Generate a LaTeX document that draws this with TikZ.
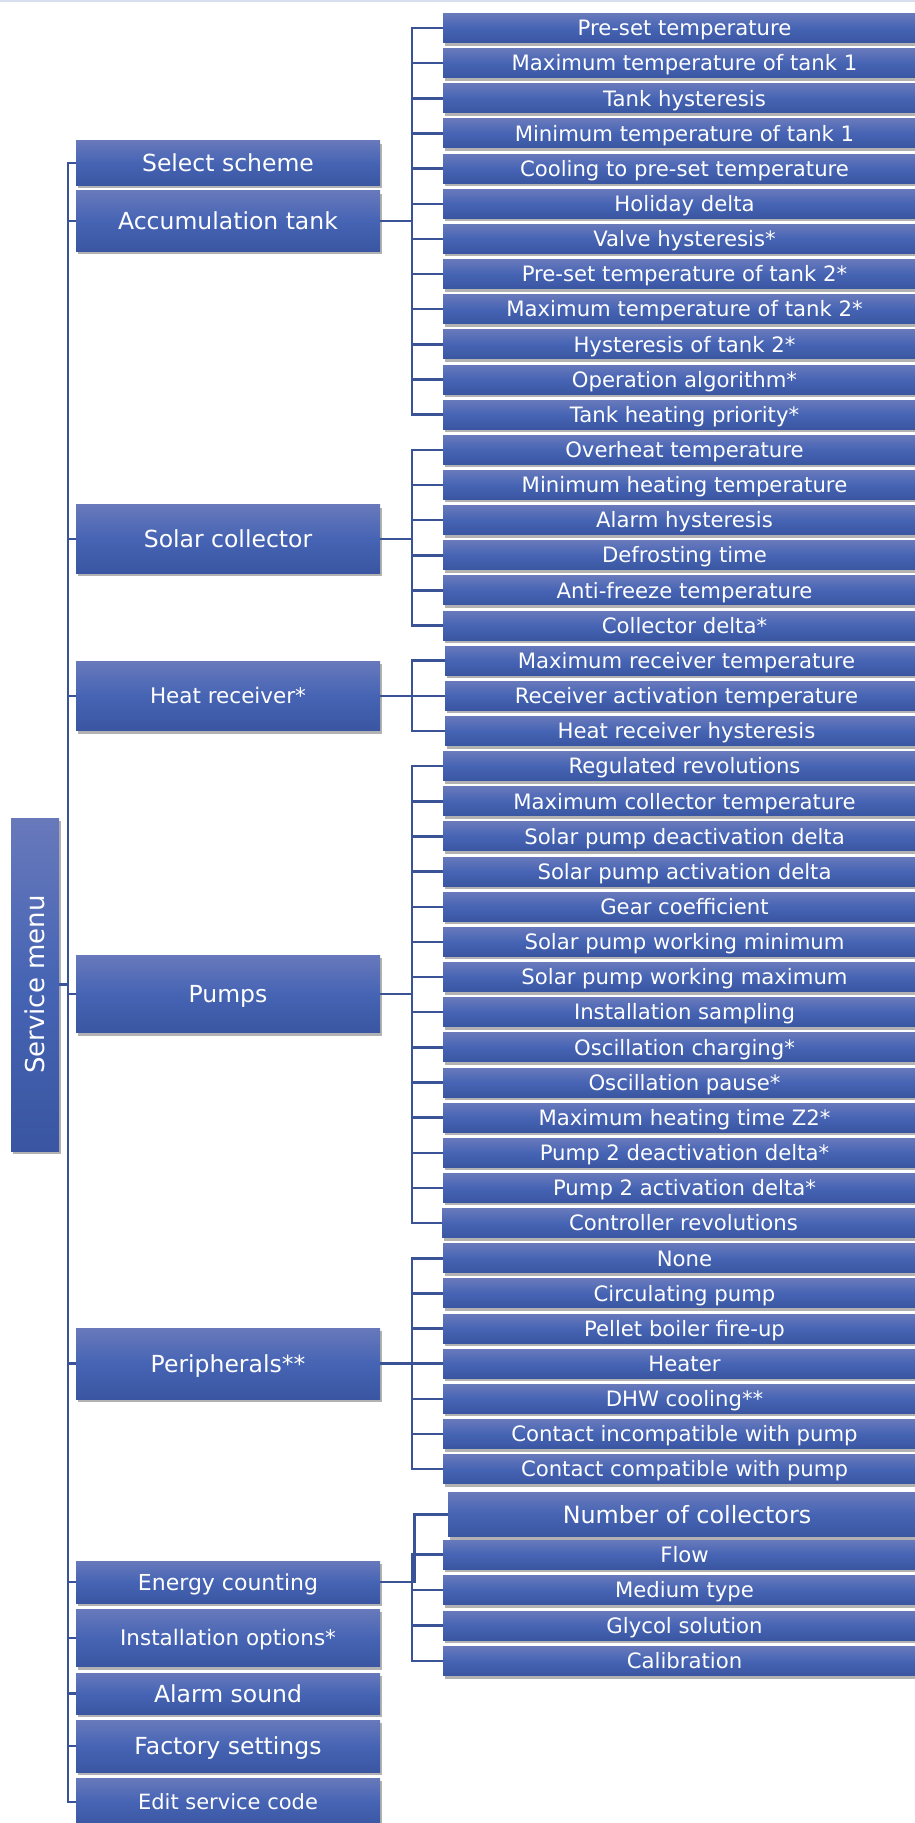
\documentclass[tikz,border=0pt]{standalone}
\usepackage{fontspec}
\setmainfont{DejaVu Sans}
\usetikzlibrary{shadows}
\definecolor{boxtop}{RGB}{104,121,187}
\definecolor{boxmid}{RGB}{70,100,180}
\definecolor{boxbot}{RGB}{58,86,162}
\definecolor{linec}{RGB}{58,82,150}
\definecolor{toplinec}{RGB}{216,222,238}
\begin{document}
\begin{tikzpicture}[x=1pt,y=-1pt,
  menubox/.style={inner sep=0pt, text=white, top color=boxtop, bottom color=boxbot, middle color=boxmid,
    drop shadow={shadow xshift=2pt, shadow yshift=-3pt, opacity=0.3, fill=black}, text depth=0pt},
  fs/.style={font=\fontsize{#1}{#1}\selectfont, text height=0.73*#1 pt},
  mainbox/.style={menubox, minimum width=304pt, fs=23.5},
  subbox/.style={menubox, minimum width=483pt, minimum height=29pt, fs=21.2},
  conn/.style={draw=linec, line width=2.5pt, line join=miter}]
\useasboundingbox (0,0) rectangle (915,1823);
\clip (0,0) rectangle (915,1823);
\fill[white] (0,0) rectangle (915,1823);
\draw[toplinec, line width=2pt] (0,1) -- (915,1);

% root
\node[menubox, minimum width=48pt, minimum height=333pt, font=\fontsize{26}{30}\selectfont,
      text height=, text depth=] (svc) at (35,984.5) {\rotatebox{90}{Service menu}};

% level 1
\node[mainbox, minimum height=44.5pt] (sel) at (228,163) {Select scheme};
\node[mainbox, minimum height=60.5pt] (acc) at (228,221) {Accumulation tank};
\node[mainbox, minimum height=68.5pt] (sol) at (228,538.8) {Solar collector};
\node[mainbox, minimum height=69.5pt, fs=21.5] (hr) at (228,695.8) {Heat receiver*};
\node[mainbox, minimum height=77.5pt] (pum) at (228,993.8) {Pumps};
\node[mainbox, minimum height=71pt] (per) at (228,1363.5) {Peripherals**};
\node[mainbox, minimum height=42pt, fs=22] (ene) at (228,1582) {Energy counting};
\node[mainbox, minimum height=57.5pt, fs=21.5] (ins) at (228,1638) {Installation options*};
\node[mainbox, minimum height=41pt] (ala) at (228,1693.5) {Alarm sound};
\node[mainbox, minimum height=52pt] (fac) at (228,1746) {Factory settings};
\node[mainbox, minimum height=48pt, fs=21] (edi) at (228,1802) {Edit service code};

% level 2
\foreach \i/\t in {0/Pre-set temperature, 1/Maximum temperature of tank 1, 2/Tank hysteresis,
  3/Minimum temperature of tank 1, 4/Cooling to pre-set temperature, 5/Holiday delta,
  6/Valve hysteresis*, 7/Pre-set temperature of tank 2*, 8/Maximum temperature of tank 2*,
  9/Hysteresis of tank 2*, 10/Operation algorithm*, 11/Tank heating priority*,
  12/Overheat temperature, 13/Minimum heating temperature, 14/Alarm hysteresis,
  15/Defrosting time, 16/Anti-freeze temperature, 17/Collector delta*,
  21/Regulated revolutions, 22/Maximum collector temperature, 23/Solar pump deactivation delta,
  24/Solar pump activation delta, 25/Gear coefficient, 26/Solar pump working minimum,
  27/Solar pump working maximum, 28/Installation sampling, 29/Oscillation charging*,
  30/Oscillation pause*, 31/Maximum heating time Z2*, 32/Pump 2 deactivation delta*,
  33/Pump 2 activation delta*, 35/None, 36/Circulating pump,
  37/Pellet boiler fire-up, 38/Heater, 39/DHW cooling**, 40/Contact incompatible with pump,
  41/Contact compatible with pump}
  \node[subbox] (r\i) at (684.5,{28+35.15*\i}) {\t};
\foreach \i/\t in {18/Maximum receiver temperature, 19/Receiver activation temperature, 20/Heat receiver hysteresis}
  \node[subbox] (r\i) at (686.5,{28+35.15*\i}) {\t};
\node[subbox] (r34) at (683.5,{28+35.15*34}) {Controller revolutions};

% energy counting group
\node[subbox, minimum width=478pt, minimum height=44.5pt, fs=23.8] (ec0) at (687,1514.5) {Number of collectors};
\node[subbox] (ec1) at (684.5,1554.5) {Flow};
\node[subbox] (ec2) at (684.5,1590) {Medium type};
\node[subbox] (ec3) at (684.5,1625.5) {Glycol solution};
\node[subbox] (ec4) at (684.5,1661) {Calibration};

% connectors
\coordinate (mv) at (68,0);
\coordinate (sv) at (412,0);
\coordinate (ev) at (414.5,0);

\draw[conn] (sel.west) -| (mv |- edi.west) -- (edi.west);
\foreach \n in {acc,sol,hr,pum,per,ene,ins,ala,fac}
  \draw[conn] (\n.west) -- (\n.west -| mv);
\draw[conn] (svc.east) -- (svc.east -| mv);

\foreach \p/\a/\b in {acc/0/11, sol/12/17, hr/18/20, pum/21/34, per/35/41}{
  \draw[conn] (\p.east) -- (\p.east -| sv);
  \draw[conn] (r\a.west) -| (sv |- r\b.west) -- (r\b.west);
}
\foreach \i in {1,...,10,13,14,15,16,19,22,23,...,33,36,37,38,39,40}
  \draw[conn] (r\i.west) -- (r\i.west -| sv);

\draw[conn] (ene.east) -| (ev |- ec0.west) -- (ec0.west);
\draw[conn] (ec1.west) -| (sv |- ec4.west) -- (ec4.west);
\foreach \i in {2,3}
  \draw[conn] (ec\i.west) -- (ec\i.west -| sv);
\end{tikzpicture}
\end{document}
